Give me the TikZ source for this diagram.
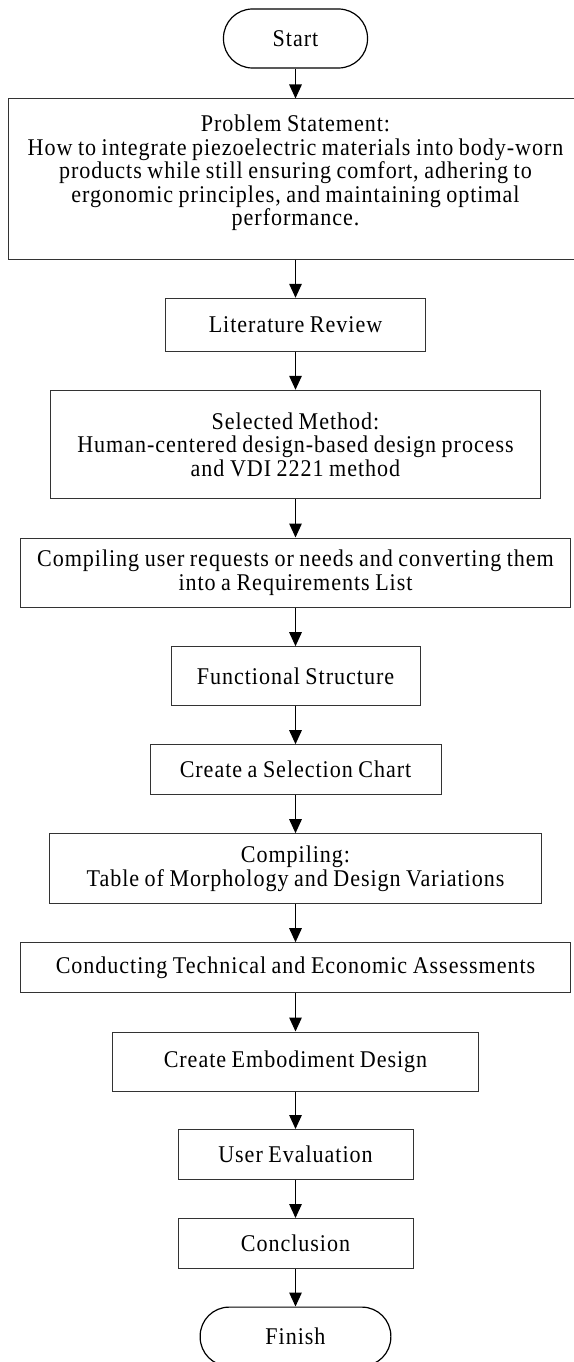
\documentclass[tikz,border=0pt]{standalone}
\usepackage{fontspec}
\setmainfont[FakeStretch=0.92, LetterSpace=4, WordSpace=0.85]{Liberation Serif}
\usetikzlibrary{arrows.meta}
\begin{document}
\begin{tikzpicture}[x=1pt,y=-1pt,
  every node/.style={font=\fontsize{24}{23.5}\selectfont},
  stepbox/.style={draw=black!80, line width=1pt, inner sep=0pt, align=center},
  terminal/.style={draw=black, line width=1.2pt, rounded corners=29pt,
    inner sep=0pt, minimum height=59pt},
  flow/.style={line width=1.4pt, -{Triangle[length=14pt,width=12.5pt]}}]

\useasboundingbox (0,0) rectangle (573,1362);

% start / finish terminals
\node[terminal, minimum width=144pt] (start) at (295.5,38.5) {Start};
\node[terminal, minimum width=190.7pt] (finish) at (295.5,1336.6) {Finish};

% problem statement: box and its text
\node[stepbox, minimum width=567.5pt, minimum height=160pt] (prob) at (292.25,179) {};
\node[align=center, inner sep=0pt] (probtext) at (295.5,173)
  {Problem Statement:\\
   How to integrate piezoelectric materials into body-worn\\
   products while still ensuring comfort, adhering to\\
   ergonomic principles, and maintaining optimal\\
   performance.};

% process steps
\node[stepbox, minimum width=260pt, minimum height=52.7pt] (lit) at (295.5,324.65) {Literature Review};
\node[stepbox, minimum width=490.6pt, minimum height=108.4pt] (sel) at (295.5,444.5)
  {Selected Method:\\Human-centered design-based design process\\and VDI 2221 method};
\node[stepbox, minimum width=550pt, minimum height=69.3pt] (req) at (295.5,572.65)
  {Compiling user requests or needs and converting them\\into a Requirements List};
\node[stepbox, minimum width=249pt, minimum height=59pt] (func) at (295.5,676.2) {Functional Structure};
\node[stepbox, minimum width=291pt, minimum height=49.6pt] (chart) at (295.5,769.5) {Create a Selection Chart};
\node[stepbox, minimum width=492.3pt, minimum height=70pt] (morph) at (295.5,868.7)
  {Compiling:\\Table of Morphology and Design Variations};
\node[stepbox, minimum width=550.5pt, minimum height=50pt] (assess) at (295.5,967.7)
  {Conducting Technical and Economic Assessments};
\node[stepbox, minimum width=365.7pt, minimum height=59pt] (embod) at (295.5,1061.5) {Create Embodiment Design};
\node[stepbox, minimum width=235pt, minimum height=50pt] (user) at (295.5,1154.5) {User Evaluation};
\node[stepbox, minimum width=235pt, minimum height=50pt] (concl) at (295.5,1243.5) {Conclusion};

% connectors
\foreach \a/\b in {start/prob, prob/lit, lit/sel, sel/req, req/func, func/chart,
                   chart/morph, morph/assess, assess/embod, embod/user,
                   user/concl, concl/finish}
  \draw[flow] (start.south |- \a.south) -- (start.south |- \b.north);
\end{tikzpicture}
\end{document}
